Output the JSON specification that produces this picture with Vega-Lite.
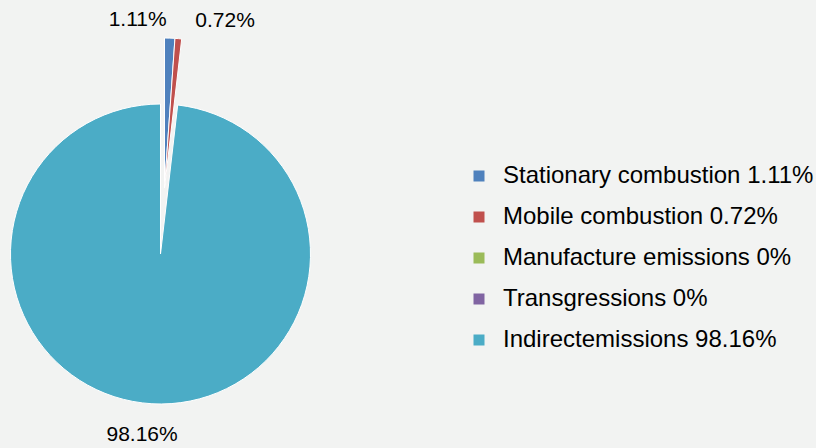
{
  "$schema": "https://vega.github.io/schema/vega-lite/v6.json",
  "autosize": {"type": "none"},
  "padding": {"left": 0, "top": 30, "right": 495, "bottom": 0},
  "width": 321,
  "height": 448,
  "background": "#f2f3f2",
  "config": {"view": {"stroke": null}, "font": "Liberation Sans"},
  "data": {
    "values": [
      {"category": "Stationary combustion", "label": "Stationary combustion 1.11%", "pct": "1.11%", "value": 1.11, "rank": 1},
      {"category": "Mobile combustion", "label": "Mobile combustion 0.72%", "pct": "0.72%", "value": 0.72, "rank": 2},
      {"category": "Manufacture emissions", "label": "Manufacture emissions 0%", "pct": "0%", "value": 0, "rank": 3},
      {"category": "Transgressions", "label": "Transgressions 0%", "pct": "0%", "value": 0, "rank": 4},
      {"category": "Indirectemissions", "label": "Indirectemissions 98.16%", "pct": "98.16%", "value": 98.16, "rank": 5}
    ]
  },
  "encoding": {
    "theta": {"field": "value", "type": "quantitative", "stack": true},
    "order": {"field": "rank", "type": "quantitative"},
    "detail": {"field": "label", "type": "nominal"}
  },
  "layer": [
    {
      "mark": {"type": "arc", "outerRadius": 150, "stroke": "white", "strokeWidth": 1},
      "encoding": {
        "color": {
          "field": "label", "type": "nominal",
          "scale": {
            "domain": ["Stationary combustion 1.11%", "Mobile combustion 0.72%", "Manufacture emissions 0%", "Transgressions 0%", "Indirectemissions 98.16%"],
            "range": ["#4f81bd", "#c0504d", "#9bbb59", "#8064a2", "#4bacc6"]
          },
          "legend": {
            "title": null, "orient": "none", "legendX": 467, "legendY": 134,
            "symbolType": "square", "symbolSize": 121, "symbolStrokeWidth": 0,
            "labelFontSize": 24, "labelColor": "#000", "labelFont": "Liberation Sans",
            "labelOffset": 12, "rowPadding": 17, "padding": 0, "labelLimit": 400
          }
        },
        "opacity": {"condition": {"test": "datum.rank === 5", "value": 1}, "value": 0}
      }
    },
    {
      "mark": {"type": "arc", "outerRadius": 150, "stroke": "white", "strokeWidth": 1, "yOffset": -66, "xOffset": 4},
      "encoding": {
        "color": {"field": "label", "type": "nominal"},
        "opacity": {"condition": {"test": "datum.rank < 5 && datum.value > 0", "value": 1}, "value": 0}
      }
    },
    {
      "mark": {"type": "text", "radius": 234, "dx": -31, "fontSize": 21, "color": "#000"},
      "encoding": {"text": {"condition": {"test": "datum.rank === 1", "field": "pct"}, "value": ""}}
    },
    {
      "mark": {"type": "text", "radius": 234, "dx": 43, "fontSize": 21, "color": "#000"},
      "encoding": {"text": {"condition": {"test": "datum.rank === 2", "field": "pct"}, "value": ""}}
    },
    {
      "mark": {"type": "text", "radius": 181, "dx": -8, "fontSize": 21, "color": "#000"},
      "encoding": {"text": {"condition": {"test": "datum.rank === 5", "field": "pct"}, "value": ""}}
    }
  ]
}
